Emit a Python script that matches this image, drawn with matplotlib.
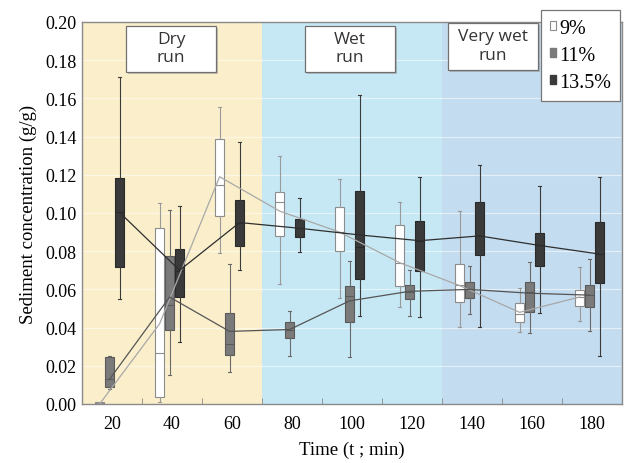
import matplotlib
matplotlib.use("Agg")
import matplotlib.pyplot as plt
from matplotlib.patches import Patch, Rectangle
import numpy as np

times = [20, 40, 60, 80, 100, 120, 140, 160, 180]
series = ["9%", "11%", "13.5%"]

# 9%
q1_9 = [0.000, 0.0035, 0.0986, 0.0878, 0.080, 0.0619, 0.0536, 0.0431, 0.0511]
med_9 = [0.0005, 0.0267, 0.1147, 0.1056, 0.090, 0.0737, 0.0623, 0.0471, 0.0559]
q3_9 = [0.001, 0.092, 0.1387, 0.1108, 0.103, 0.0939, 0.0733, 0.0527, 0.0599]
lo_9 = [0.000, 0.001, 0.0789, 0.0628, 0.0555, 0.0506, 0.0401, 0.0375, 0.0436]
hi_9 = [0.001, 0.105, 0.1553, 0.130, 0.1178, 0.1056, 0.1012, 0.0606, 0.0716]
mean_9 = [0.000, 0.042, 0.119, 0.101, 0.090, 0.074, 0.062, 0.048, 0.056]

# 11%
q1_11 = [0.0087, 0.039, 0.0258, 0.0344, 0.0431, 0.055, 0.0553, 0.0483, 0.0506]
med_11 = [0.013, 0.052, 0.0314, 0.0387, 0.0567, 0.0588, 0.060, 0.0588, 0.057]
q3_11 = [0.0248, 0.0777, 0.0476, 0.0428, 0.0619, 0.0623, 0.0637, 0.0637, 0.0623]
lo_11 = [0.008, 0.015, 0.0166, 0.0253, 0.0244, 0.0462, 0.0471, 0.037, 0.0384]
hi_11 = [0.025, 0.1017, 0.0733, 0.0489, 0.075, 0.0703, 0.0721, 0.0745, 0.0759]
mean_11 = [0.013, 0.056, 0.038, 0.039, 0.054, 0.059, 0.060, 0.058, 0.057]

# 13.5%
q1_135 = [0.0716, 0.0562, 0.0826, 0.0873, 0.0654, 0.0698, 0.078, 0.0724, 0.0634]
med_135 = [0.1003, 0.0698, 0.0948, 0.092, 0.082, 0.0855, 0.0878, 0.0832, 0.0785]
q3_135 = [0.1183, 0.0812, 0.1068, 0.0969, 0.1113, 0.096, 0.1059, 0.0893, 0.0951]
lo_135 = [0.055, 0.0323, 0.0702, 0.0797, 0.0462, 0.0454, 0.0401, 0.0474, 0.0253]
hi_135 = [0.1714, 0.1038, 0.1373, 0.1079, 0.1618, 0.1187, 0.1251, 0.114, 0.119]
mean_135 = [0.1003, 0.070, 0.095, 0.092, 0.0885, 0.0855, 0.088, 0.083, 0.0785]

phases = ["Dry\nrun", "Wet\nrun", "Very wet\nrun"]
phase_bounds = [(10, 70), (70, 130), (130, 190)]
phase_colors = ["#FBEFCB", "#C6E8F5", "#C4DCEF"]

plt.rcParams["font.family"] = ["Liberation Serif", "DejaVu Serif"]

W, H = 624, 464
fig = plt.figure(figsize=(W / 100, H / 100), dpi=100)
ax = fig.add_axes([82 / W, 59 / H, 540 / W, 382 / H])

for (a, b), c in zip(phase_bounds, phase_colors):
    ax.axvspan(a, b, color=c, zorder=0, lw=0)

for y in np.arange(0.02, 0.201, 0.02):
    ax.axhline(y, color="white", lw=0.8, alpha=0.55, zorder=0.5)

data = [
    (q1_9, med_9, q3_9, lo_9, hi_9, mean_9, "white", "#8c8c8c", "#9a9a9a", "#a8a8a8"),
    (q1_11, med_11, q3_11, lo_11, hi_11, mean_11, "#7a7a7a", "#5a5a5a", "#6a6a6a", "#555555"),
    (q1_135, med_135, q3_135, lo_135, hi_135, mean_135, "#3a3a3a", "#2a2a2a", "#3a3a3a", "#2e2e2e"),
]
shift = -0.8
step = 3.33
width = 3.2
for k, (q1, med, q3, lo, hi, mn, fc, ec, wc, lc) in enumerate(data):
    pos = [t + shift + (k - 1) * step for t in times]
    stats = [dict(q1=a, med=m, q3=b, whislo=l, whishi=h, fliers=[])
             for a, m, b, l, h in zip(q1, med, q3, lo, hi)]
    ax.bxp(stats, positions=pos, widths=width, patch_artist=True,
           showfliers=False, manage_ticks=False,
           boxprops=dict(facecolor=fc, edgecolor=ec, lw=0.8),
           medianprops=dict(color=ec, lw=0.8),
           whiskerprops=dict(color=wc, lw=0.8),
           capprops=dict(color=wc, lw=0.8), capwidths=width * 0.35,
           zorder=2)
    ax.plot(pos, mn, color=lc, lw=0.9, zorder=3)

ax.set_xlim(10, 190)
ax.set_ylim(0, 0.20)
ax.set_xticks(times)
ax.set_xticks(np.arange(30, 190, 20), minor=True)
ax.tick_params(axis="x", which="major", length=0, labelsize=13, pad=8)
ax.tick_params(axis="x", which="minor", length=4, color="#888888", direction="in")
ax.set_yticks(np.arange(0, 0.201, 0.02))
ax.set_yticklabels([f"{v:.2f}" for v in np.arange(0, 0.201, 0.02)])
ax.tick_params(axis="y", length=0, labelsize=13, pad=4)
for s in ax.spines.values():
    s.set_color("#8a8a8a")
    s.set_linewidth(1.0)

ax.set_xlabel("Time (t ; min)", fontsize=13.5, labelpad=6)
ax.set_ylabel("Sediment concentration (g/g)", fontsize=13.5, labelpad=6)

# phase label boxes (pixel layout)
box_px = [(126, 27, 90, 46), (305, 27, 90, 46), (448, 24, 90, 47)]
for label, (bx, by, bw, bh) in zip(phases, box_px):
    x0 = bx / W
    y0 = 1 - (by + bh) / H
    sh = Rectangle((x0 + 2 / W, y0 - 2 / H), bw / W, bh / H, transform=fig.transFigure,
                   fc="#888888", ec="none", alpha=0.45, zorder=4)
    r = Rectangle((x0, y0), bw / W, bh / H, transform=fig.transFigure,
                  fc="white", ec="#707070", lw=0.9, zorder=5)
    fig.add_artist(sh)
    fig.add_artist(r)
    fig.text(x0 + bw / W / 2, y0 + bh / H / 2 + 1 / H, label, ha="center", va="center",
             fontsize=12.5, family=["Open Sans", "DejaVu Sans"], color="#333333",
             linespacing=1.25, zorder=6)

handles = [Patch(facecolor="white", edgecolor="#8c8c8c", lw=0.8),
           Patch(facecolor="#7a7a7a", edgecolor="#7a7a7a"),
           Patch(facecolor="#3a3a3a", edgecolor="#3a3a3a")]
leg = fig.legend(handles, series, loc="upper right", bbox_to_anchor=(620 / W, 1 - 11 / H),
                 fontsize=14.5, frameon=True, fancybox=False, framealpha=1.0,
                 handlelength=0.3, handleheight=0.3,
                 handletextpad=0.15, borderpad=0.45, labelspacing=0.4, borderaxespad=0)
leg.get_frame().set_edgecolor("#777777")
leg.get_frame().set_linewidth(0.9)
leg.set_zorder(10)

fig.savefig("out.png", dpi=100)
